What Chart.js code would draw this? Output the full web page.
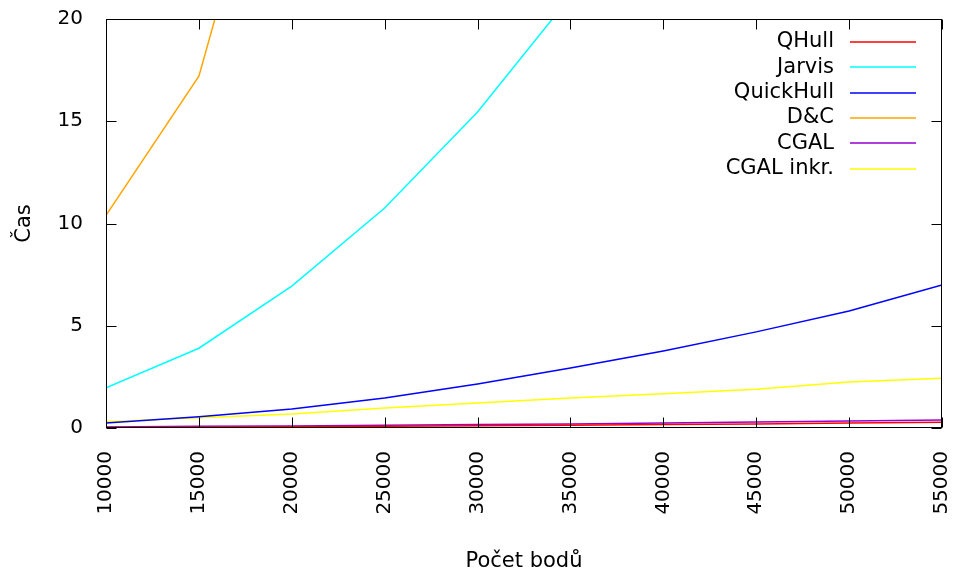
<!DOCTYPE html>
<html lang="cs">
<head>
<meta charset="UTF-8">
<title>Čas vs. počet bodů</title>
<script src="https://cdn.jsdelivr.net/npm/chart.js@4"></script>
<style>body{margin:0;background:#fff}</style>
</head>
<body>
<canvas id="casChart" width="955" height="574"></canvas>
<script>
// pocet bodu
var points = [10000, 15000, 20000, 25000, 30000, 35000, 40000, 45000, 50000, 55000];

// casy jednotlivych algoritmu (odhad z grafu)
var qhull = [0.02, 0.04, 0.06, 0.08, 0.11, 0.14, 0.17, 0.20, 0.24, 0.28];
var jarvis = [1.96, 3.9, 6.94, 10.76, 15.45, 21.1];
var quickHull = [0.25, 0.55, 0.93, 1.47, 2.15, 2.93, 3.77, 4.7, 5.72, 7.0];
var divConq = [10.4, 17.2, 33.4];
var cgal = [0.05, 0.08, 0.10, 0.13, 0.17, 0.20, 0.25, 0.29, 0.34, 0.39];
var cgalInkr = [0.30, 0.50, 0.68, 0.98, 1.22, 1.47, 1.67, 1.89, 2.25, 2.43];

var seriesNames = ['QHull', 'Jarvis', 'QuickHull', 'D&C', 'CGAL', 'CGAL inkr.'];
var seriesData = [qhull, jarvis, quickHull, divConq, cgal, cgalInkr];
var seriesColors = ['#ff0000', '#00ffff', '#0000ff', '#ffa500', '#9400d3', '#ffff00'];

var xTicks = [10000, 15000, 20000, 25000, 30000, 35000, 40000, 45000, 50000, 55000];
var yTicks = [0, 5, 10, 15, 20];

var FONT = 'DejaVu Sans';

function toXY(vals) {
    return vals.map(function (v, i) { return { x: points[i], y: v }; });
}

// gnuplot-like frame with inward ticks on all sides
var framePlugin = {
    id: 'frame',
    afterDatasetsDraw: function (chart) {
        var ctx = chart.ctx, a = chart.chartArea;
        var xs = chart.scales.x, ys = chart.scales.y;
        var L = Math.round(a.left) + 0.5, R = Math.round(a.right) - 0.5;
        var T = Math.round(a.top) + 0.5, B = Math.round(a.bottom) - 0.5;
        ctx.save();
        ctx.strokeStyle = '#000';
        ctx.lineWidth = 1;
        ctx.beginPath();
        xTicks.forEach(function (t) {
            var px = Math.round(xs.getPixelForValue(t)) + 0.5;
            ctx.moveTo(px, B); ctx.lineTo(px, B - 10);
            ctx.moveTo(px, T); ctx.lineTo(px, T + 10);
        });
        yTicks.forEach(function (t) {
            var py = Math.round(ys.getPixelForValue(t)) + 0.5;
            ctx.moveTo(L, py); ctx.lineTo(L + 10, py);
            ctx.moveTo(R, py); ctx.lineTo(R - 10, py);
        });
        ctx.stroke();
        ctx.strokeRect(L, T, R - L, B - T);
        ctx.restore();
    }
};

// legend: text right aligned, sample line to the right
var keyPlugin = {
    id: 'key',
    afterDraw: function (chart) {
        var ctx = chart.ctx;
        ctx.save();
        ctx.font = '21px "' + FONT + '"';
        ctx.textAlign = 'right';
        ctx.textBaseline = 'middle';
        chart.data.datasets.forEach(function (ds, i) {
            var y = 42 + i * 25.3;
            ctx.fillStyle = '#000';
            ctx.fillText(ds.label, 834, y);
            ctx.strokeStyle = ds.borderColor;
            ctx.lineWidth = 1.5;
            ctx.beginPath();
            ctx.moveTo(850, Math.round(y));
            ctx.lineTo(916, Math.round(y));
            ctx.stroke();
        });
        ctx.restore();
    }
};

var ctx = document.getElementById('casChart').getContext('2d');
var chart = new Chart(ctx, {
    type: 'line',
    data: {
        datasets: seriesNames.map(function (name, i) {
            return {
                label: name,
                data: toXY(seriesData[i]),
                borderColor: seriesColors[i],
                backgroundColor: seriesColors[i],
                borderWidth: 1.5,
                pointRadius: 0,
                tension: 0,
                fill: false
            };
        })
    },
    options: {
        responsive: false,
        animation: false,
        layout: { padding: { left: 0, top: 19, right: 13, bottom: 0 } },
        plugins: {
            legend: { display: false },
            tooltip: { enabled: false }
        },
        scales: {
            x: {
                type: 'linear',
                min: 10000,
                max: 55000,
                afterFit: function (s) {
                    s.height = 146;
                    s.paddingLeft = 0;
                    s.paddingRight = 0;
                },
                afterBuildTicks: function (s) { s.ticks = xTicks.map(function (v) { return { value: v }; }); },
                grid: { display: false },
                border: { display: false },
                ticks: {
                    minRotation: 90,
                    maxRotation: 90,
                    padding: 15,
                    color: '#000',
                    font: { family: FONT, size: 20 },
                    callback: function (v) { return String(v); }
                },
                title: {
                    display: true,
                    text: 'Počet bodů',
                    color: '#000',
                    font: { family: FONT, size: 21 },
                    padding: { top: 0, bottom: 0 }
                }
            },
            y: {
                min: 0,
                max: 20,
                afterFit: function (s) {
                    s.width = 106;
                    s.paddingTop = 0;
                    s.paddingBottom = 0;
                },
                afterBuildTicks: function (s) { s.ticks = yTicks.map(function (v) { return { value: v }; }); },
                grid: { display: false },
                border: { display: false },
                ticks: {
                    padding: 15,
                    color: '#000',
                    font: { family: FONT, size: 20 }
                },
                title: {
                    display: true,
                    text: 'Čas',
                    color: '#000',
                    font: { family: FONT, size: 21 },
                    padding: { top: 12, bottom: 0 }
                }
            }
        }
    },
    plugins: [framePlugin, keyPlugin]
});
</script>
</body>
</html>
